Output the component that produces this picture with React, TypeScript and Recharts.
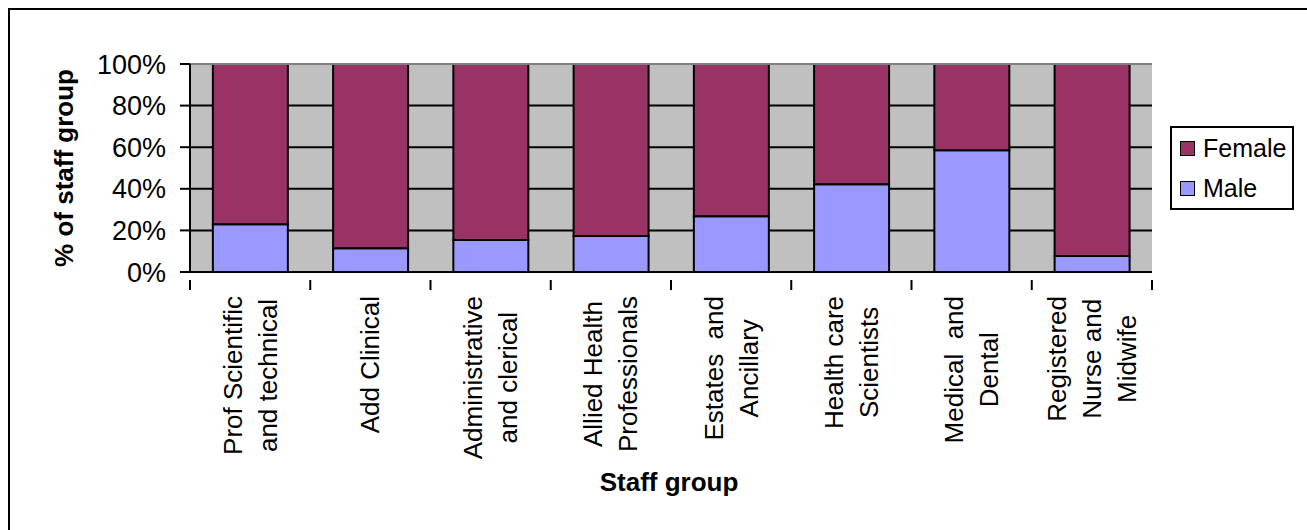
import React from 'react';
import {
  BarChart,
  Bar,
  XAxis,
  YAxis,
  CartesianGrid,
  Legend,
  ReferenceLine,
} from 'recharts';

const staffGroups = [
  'Prof Scientific and technical',
  'Add Clinical',
  'Administrative and clerical',
  'Allied Health Professionals',
  'Estates and Ancillary',
  'Health care Scientists',
  'Medical and Dental',
  'Registered Nurse and Midwife',
];

// wrapped tick text, one entry per staff group
const tickLines = [
  ['Prof Scientific', 'and technical'],
  ['Add Clinical'],
  ['Administrative', 'and clerical'],
  ['Allied Health', 'Professionals'],
  ['Estates  and', 'Ancillary'],
  ['Health care', 'Scientists'],
  ['Medical  and', 'Dental'],
  ['Registered', 'Nurse and', 'Midwife'],
];

const malePct = [22.9, 11.4, 15.4, 17.3, 26.8, 42.2, 58.5, 7.7];
const femalePct = [77.1, 88.6, 84.6, 82.7, 73.2, 57.8, 41.5, 92.3];

const yTicks = [0, 20, 40, 60, 80, 100];

const series = [
  { key: 'Female', color: '#993366' },
  { key: 'Male', color: '#9999FF' },
];

const data = staffGroups.map((group, i) => ({
  group,
  Male: malePct[i],
  Female: femalePct[i],
}));

const FONT = '"Liberation Sans", Arial, sans-serif';
const WIDTH = 1307;
const HEIGHT = 530;
const PLOT_LEFT = 190;
const PLOT_RIGHT = 1152;
const BAND = (PLOT_RIGHT - PLOT_LEFT) / staffGroups.length;
const LABEL_SIZE = 26;
const LINE_GAP = 35;

let ctx: CanvasRenderingContext2D | null = null;
function textWidth(s: string) {
  if (!ctx) ctx = document.createElement('canvas').getContext('2d');
  if (!ctx) return s.length * LABEL_SIZE * 0.5;
  ctx.font = `${LABEL_SIZE}px ${FONT}`;
  return ctx.measureText(s).width;
}

function GroupTick(props: any) {
  const { x, y, index } = props;
  const lines = tickLines[index] || [];
  const longest = Math.max(...lines.map(textWidth));
  const last = index === staffGroups.length - 1;
  return (
    <g>
      <line x1={x - BAND / 2} x2={x - BAND / 2} y1={y} y2={y + 10} stroke="#000" strokeWidth={2} />
      {last && (
        <line x1={x + BAND / 2} x2={x + BAND / 2} y1={y} y2={y + 10} stroke="#000" strokeWidth={2} />
      )}
      <g transform={`translate(${x},${y + 16}) rotate(-90)`}>
        {lines.map((line, i) => (
          <text
            key={i}
            x={-longest / 2}
            y={(i - (lines.length - 1) / 2) * LINE_GAP}
            textAnchor="middle"
            dominantBaseline="central"
            fontSize={LABEL_SIZE}
            fontFamily={FONT}
            fill="#000"
            style={{ whiteSpace: 'pre' }}
          >
            {line}
          </text>
        ))}
      </g>
    </g>
  );
}

function LegendBox() {
  return (
    <div
      style={{
        width: 124,
        height: 84,
        boxSizing: 'border-box',
        border: '2px solid #000',
        background: '#fff',
        padding: '0 0 0 8px',
        fontFamily: FONT,
        fontSize: 25,
      }}
    >
      {series.map((s) => (
        <div key={s.key} style={{ display: 'flex', alignItems: 'center', height: 40 }}>
          <span
            style={{
              width: 13,
              height: 13,
              background: s.color,
              border: '1.5px solid #000',
              marginRight: 8,
            }}
          />
          <span>{s.key}</span>
        </div>
      ))}
    </div>
  );
}

export default function App() {
  return (
    <div style={{ position: 'absolute', left: 0, top: 0, width: WIDTH, height: HEIGHT }}>
      <div
        style={{
          position: 'absolute',
          left: 8,
          top: 8,
          width: WIDTH - 8,
          height: HEIGHT - 8,
          boxSizing: 'border-box',
          borderLeft: '2px solid #000',
          borderTop: '2px solid #000',
        }}
      />
      <BarChart
        width={WIDTH}
        height={HEIGHT}
        data={data}
        margin={{ top: 64, left: 110, right: WIDTH - PLOT_RIGHT, bottom: 58 }}
        barCategoryGap="19%"
        style={{ position: 'absolute', left: 0, top: 0 }}
      >
        <CartesianGrid
          fill="#C0C0C0"
          fillOpacity={1}
          vertical={false}
          stroke="#000"
          strokeWidth={2}
          horizontalValues={[20, 40, 60, 80]}
        />
        <XAxis
          dataKey="group"
          height={200}
          interval={0}
          tickLine={false}
          axisLine={{ stroke: '#000', strokeWidth: 2 }}
          tick={<GroupTick />}
          label={{
            value: 'Staff group',
            content: () => (
              <text
                x={669}
                y={482}
                textAnchor="middle"
                dominantBaseline="central"
                fontFamily={FONT}
                fontSize={26}
                fontWeight="bold"
                fill="#000"
              >
                Staff group
              </text>
            ),
          }}
        />
        <YAxis
          width={80}
          domain={[0, 100]}
          ticks={yTicks}
          interval={0}
          tickFormatter={(v) => `${v}%`}
          tickSize={10}
          tickMargin={14}
          tick={{ fill: '#000', fontSize: 27, fontFamily: FONT }}
          tickLine={{ stroke: '#000', strokeWidth: 2 }}
          axisLine={{ stroke: '#000', strokeWidth: 2 }}
          label={{
            value: '% of staff group',
            content: () => (
              <text
                x={64}
                y={168}
                textAnchor="middle"
                dominantBaseline="central"
                transform="rotate(-90 64 168)"
                fontFamily={FONT}
                fontSize={26}
                fontWeight="bold"
                fill="#000"
              >
                % of staff group
              </text>
            ),
          }}
        />
        <YAxis
          yAxisId="edge"
          orientation="right"
          width={0}
          domain={[0, 100]}
          tick={false}
          tickLine={false}
          axisLine={{ stroke: '#808080', strokeWidth: 2 }}
        />
        <ReferenceLine y={100} stroke="#808080" strokeWidth={2} />
        <Bar
          dataKey="Male"
          stackId="pct"
          fill="#9999FF"
          stroke="#000"
          strokeWidth={2}
          isAnimationActive={false}
        />
        <Bar
          dataKey="Female"
          stackId="pct"
          fill="#993366"
          stroke="#000"
          strokeWidth={2}
          isAnimationActive={false}
        />
        <Legend
          layout="vertical"
          align="center"
          verticalAlign="middle"
          wrapperStyle={{ left: 1170, top: 126, width: 124, height: 84 }}
          content={() => <LegendBox />}
        />
      </BarChart>
    </div>
  );
}
